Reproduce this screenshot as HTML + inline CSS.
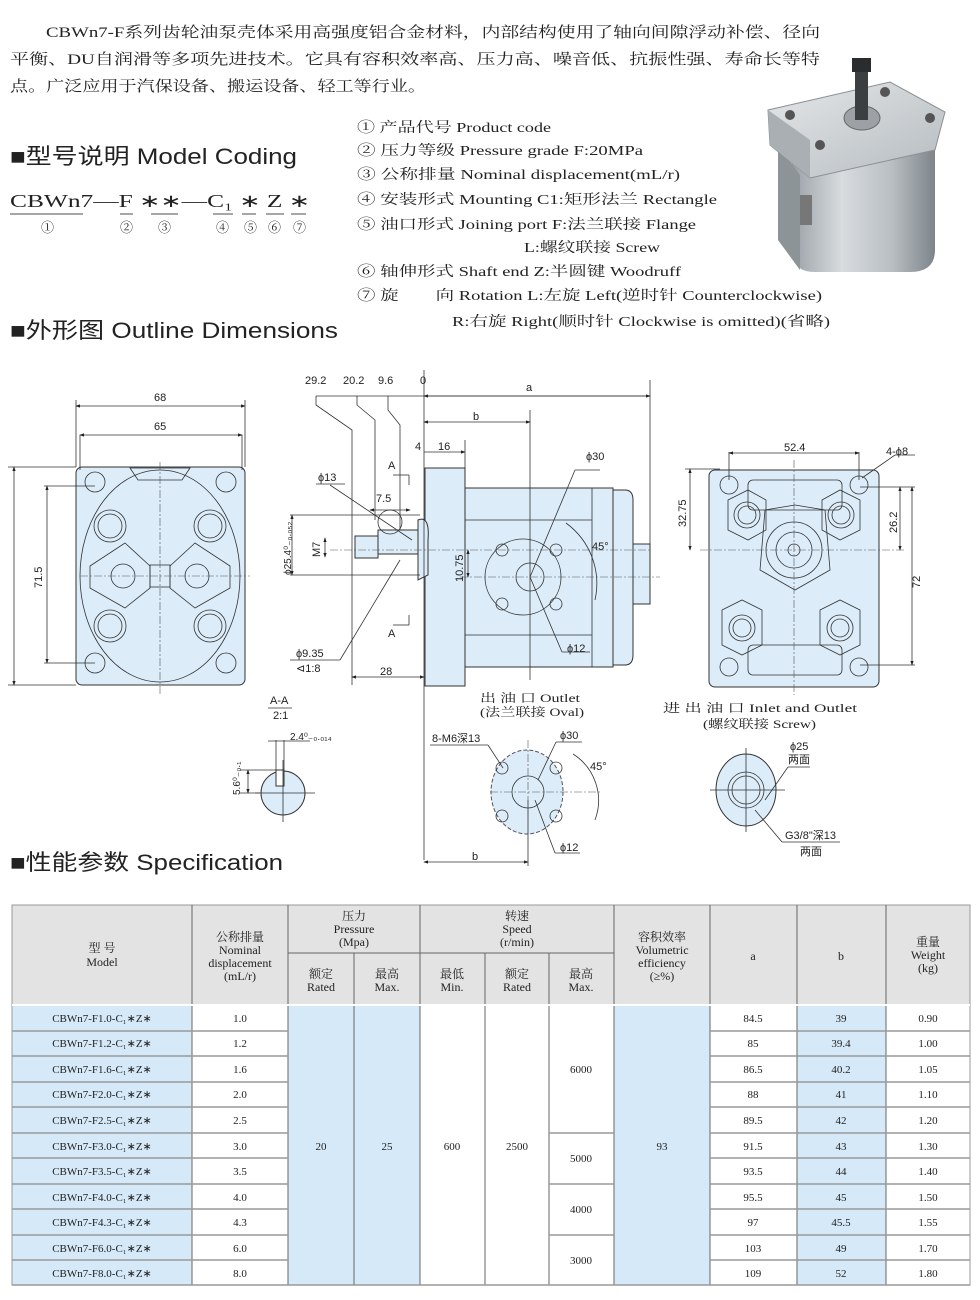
<!DOCTYPE html>
<html><head><meta charset="utf-8"><style>
html,body{margin:0;padding:0;background:#fff}
svg{display:block}
.s{font-family:"Liberation Serif","Noto Serif CJK SC",serif;fill:#222}
.a{font-family:"Liberation Sans","Noto Sans CJK SC",sans-serif;fill:#222}
.l{stroke:#333;stroke-width:0.8;fill:none}
.c{stroke:#555;stroke-width:0.6;fill:none;stroke-dasharray:8 2 2 2}
.b{fill:#dcecf9;stroke:#333;stroke-width:1}
</style></head><body>
<svg width="980" height="1300" viewBox="0 0 980 1300" xmlns="http://www.w3.org/2000/svg">
<defs><marker id="ar" markerWidth="6" markerHeight="6" refX="5" refY="3" orient="auto-start-reverse"><path d="M0,1 L6,3 L0,5z" fill="#222"/></marker>
<linearGradient id="g1" x1="0" x2="1" y1="0" y2="0"><stop offset="0" stop-color="#9aa1a6"/><stop offset="0.35" stop-color="#d8dcdf"/><stop offset="0.7" stop-color="#b8bec2"/><stop offset="1" stop-color="#7e858a"/></linearGradient>
<linearGradient id="g2" x1="0" x2="1" y1="0" y2="1"><stop offset="0" stop-color="#e4e7e9"/><stop offset="1" stop-color="#b5bbbf"/></linearGradient>
</defs>
<g class="s" font-size="15">
<text x="46" y="37" textLength="774" lengthAdjust="spacingAndGlyphs">CBWn7-F系列齿轮油泵壳体采用高强度铝合金材料，内部结构使用了轴向间隙浮动补偿、径向</text>
<text x="10" y="64" textLength="810" lengthAdjust="spacingAndGlyphs">平衡、DU自润滑等多项先进技术。它具有容积效率高、压力高、噪音低、抗振性强、寿命长等特</text>
<text x="10" y="91" textLength="416" lengthAdjust="spacingAndGlyphs">点。广泛应用于汽保设备、搬运设备、轻工等行业。</text>
</g>
<!-- pump photo -->
<g>
<path d="M792,150 H935 V250 Q935,272 910,272 H815 Q792,272 792,250Z" fill="url(#g1)"/>
<polygon points="778,145 800,175 800,270 778,240" fill="#8d9498"/>
<polygon points="768,110 890,82 945,112 935,150 810,178 770,145" fill="url(#g2)" stroke="#8a9094" stroke-width="1"/>
<polygon points="768,110 810,140 810,178 770,145" fill="#a9afb3"/>
<circle cx="790" cy="115" r="5" fill="#555"/><circle cx="885" cy="92" r="5" fill="#555"/><circle cx="930" cy="118" r="5" fill="#555"/><circle cx="820" cy="145" r="5" fill="#555"/>
<ellipse cx="862" cy="118" rx="18" ry="12" fill="#9ba1a5" stroke="#666"/>
<rect x="855" y="62" width="13" height="58" fill="#3c3f42"/>
<rect x="852" y="58" width="19" height="14" fill="#2a2c2e"/>
<rect x="800" y="195" width="12" height="30" fill="#777"/>
</g>
<text class="a" x="10" y="164" font-size="22" textLength="287" lengthAdjust="spacingAndGlyphs">■型号说明 Model Coding</text>
<text class="a" x="10" y="338" font-size="22" textLength="328" lengthAdjust="spacingAndGlyphs">■外形图 Outline Dimensions</text>
<text class="a" x="10" y="870" font-size="22" textLength="273" lengthAdjust="spacingAndGlyphs">■性能参数 Specification</text>
<g class="s" font-size="18">
<text x="10" y="207" textLength="300" lengthAdjust="spacingAndGlyphs">CBWn7—F ∗∗—C₁ ∗ Z ∗</text>
</g>
<g stroke="#888" stroke-width="1.5">
<line x1="10" y1="214" x2="83" y2="214"/><line x1="120" y1="214" x2="133" y2="214"/><line x1="151" y1="214" x2="178" y2="214"/><line x1="213" y1="214" x2="233" y2="214"/><line x1="242" y1="214" x2="256" y2="214"/><line x1="266" y1="214" x2="284" y2="214"/><line x1="291" y1="214" x2="306" y2="214"/>
</g>
<g class="s" font-size="13"><text x="41" y="232">①</text><text x="120" y="232">②</text><text x="158" y="232">③</text><text x="216" y="232">④</text><text x="244" y="232">⑤</text><text x="268" y="232">⑥</text><text x="293" y="232">⑦</text></g>
<g class="s" font-size="14">
<text x="357" y="132" textLength="194" lengthAdjust="spacingAndGlyphs">① 产品代号 Product code</text>
<text x="357" y="155" textLength="286" lengthAdjust="spacingAndGlyphs">② 压力等级 Pressure grade F:20MPa</text>
<text x="357" y="179" textLength="323" lengthAdjust="spacingAndGlyphs">③ 公称排量 Nominal displacement(mL/r)</text>
<text x="357" y="204" textLength="360" lengthAdjust="spacingAndGlyphs">④ 安装形式 Mounting  C1:矩形法兰 Rectangle</text>
<text x="357" y="229" textLength="339" lengthAdjust="spacingAndGlyphs">⑤ 油口形式 Joining port F:法兰联接 Flange</text>
<text x="524" y="252" textLength="136" lengthAdjust="spacingAndGlyphs">L:螺纹联接 Screw</text>
<text x="357" y="276" textLength="324" lengthAdjust="spacingAndGlyphs">⑥ 轴伸形式 Shaft end Z:半圆键 Woodruff</text>
<text x="357" y="300" textLength="465" lengthAdjust="spacingAndGlyphs">⑦ 旋　　向 Rotation L:左旋 Left(逆时针 Counterclockwise)</text>
<text x="452" y="326" textLength="378" lengthAdjust="spacingAndGlyphs">R:右旋 Right(顺时针 Clockwise is omitted)(省略)</text>
</g>

<!-- LEFT VIEW -->
<rect class="b" x="76" y="467" width="169" height="218" rx="6"/>
<ellipse class="l" cx="160" cy="576" rx="80" ry="106"/>
<polygon class="l" points="130,468 190,468 182,480 138,480"/>
<g class="l">
<circle cx="95" cy="482" r="10"/><circle cx="226" cy="482" r="10"/><circle cx="95" cy="663" r="10"/><circle cx="226" cy="663" r="10"/>
<circle cx="110" cy="526" r="16"/><circle cx="110" cy="526" r="12"/><circle cx="210" cy="526" r="16"/><circle cx="210" cy="526" r="12"/>
<circle cx="110" cy="626" r="16"/><circle cx="110" cy="626" r="12"/><circle cx="210" cy="626" r="16"/><circle cx="210" cy="626" r="12"/>
<polygon points="90,566 125,543 150,566 150,588 125,608 90,588"/><polygon points="170,566 195,543 230,566 230,588 195,608 170,588"/>
<circle cx="123" cy="576" r="12"/><circle cx="197" cy="576" r="12"/>
<rect x="150" y="565" width="20" height="22"/>
</g>
<line class="c" x1="160" y1="462" x2="160" y2="695"/><line class="c" x1="80" y1="576" x2="250" y2="576"/>
<g class="l"><line x1="76" y1="400" x2="76" y2="467"/><line x1="245" y1="400" x2="245" y2="467"/><line x1="80" y1="435" x2="80" y2="470"/><line x1="242" y1="435" x2="242" y2="470"/>
<line x1="76" y1="406" x2="245" y2="406" marker-start="url(#ar)" marker-end="url(#ar)"/>
<line x1="80" y1="435" x2="242" y2="435" marker-start="url(#ar)" marker-end="url(#ar)"/>
<line x1="8" y1="467" x2="76" y2="467"/><line x1="8" y1="685" x2="76" y2="685"/><line x1="44" y1="486" x2="95" y2="486"/><line x1="44" y1="663" x2="95" y2="663"/>
<line x1="14" y1="467" x2="14" y2="685" marker-start="url(#ar)" marker-end="url(#ar)"/>
<line x1="47" y1="486" x2="47" y2="663" marker-start="url(#ar)" marker-end="url(#ar)"/></g>
<g class="a" font-size="11"><text x="154" y="401">68</text><text x="154" y="430">65</text><text transform="translate(42,588) rotate(-90)">71.5</text></g>

<!-- SIDE VIEW -->
<rect class="b" x="425" y="468" width="40" height="218"/>
<rect class="b" x="465" y="488" width="148" height="179"/>
<line class="l" x1="465" y1="520" x2="592" y2="520"/><line class="l" x1="465" y1="635" x2="592" y2="635"/><line class="l" x1="592" y1="488" x2="592" y2="667"/>
<path class="b" d="M613,490 H625 Q633,490 633,500 V655 Q633,665 625,665 H613Z"/>
<rect class="b" x="633" y="544" width="17" height="60"/>
<path class="b" d="M418,520 Q430,515 428,540 L428,575 L418,580Z"/>
<rect class="b" x="378" y="530" width="40" height="24"/>
<rect class="b" x="355" y="536" width="23" height="22"/>
<circle class="l" cx="390" cy="522" r="12"/>
<circle class="l" cx="523" cy="577" r="38"/><circle class="l" cx="530" cy="577" r="14"/>
<circle class="l" cx="502" cy="550" r="6"/><circle class="l" cx="556" cy="550" r="6"/><circle class="l" cx="502" cy="604" r="6"/><circle class="l" cx="556" cy="604" r="6"/>
<path class="l" d="M566,523 A75,75 0 0 1 595,600"/>
<line class="c" x1="330" y1="550" x2="650" y2="550"/><line class="c" x1="460" y1="577" x2="660" y2="577"/>
<line class="l" x1="424" y1="370" x2="424" y2="860"/>
<line class="l" x1="530" y1="410" x2="530" y2="680"/>
<g class="l">
<line x1="316" y1="396" x2="650" y2="396"/><line x1="650" y1="380" x2="650" y2="545"/>
<line x1="424" y1="396" x2="650" y2="396" marker-start="url(#ar)" marker-end="url(#ar)"/>
<line x1="424" y1="422" x2="530" y2="422" marker-start="url(#ar)" marker-end="url(#ar)"/>
<line x1="424" y1="452" x2="465" y2="452" marker-end="url(#ar)"/><line x1="465" y1="440" x2="465" y2="468"/>
<polyline points="316,396 316,405 352,430 352,685"/><polyline points="357,396 357,405 375,420 375,520"/><polyline points="388,396 388,410 400,425 400,530"/>
<line x1="352" y1="677" x2="424" y2="677" marker-start="url(#ar)" marker-end="url(#ar)"/>
<line x1="370" y1="510" x2="410" y2="510" marker-start="url(#ar)" marker-end="url(#ar)"/>
<line x1="290" y1="515" x2="420" y2="515"/><line x1="290" y1="575" x2="420" y2="575"/>
<line x1="292" y1="515" x2="292" y2="575" marker-start="url(#ar)" marker-end="url(#ar)"/>
<line x1="325" y1="538" x2="325" y2="557" marker-start="url(#ar)" marker-end="url(#ar)"/>
<line x1="468" y1="550" x2="468" y2="577" marker-start="url(#ar)" marker-end="url(#ar)"/>
<line x1="330" y1="485" x2="412" y2="540"/><line x1="316" y1="484" x2="345" y2="484"/>
<line x1="290" y1="660" x2="340" y2="660"/><line x1="340" y1="660" x2="400" y2="560"/>
<line x1="393" y1="475" x2="409" y2="475"/><line x1="409" y1="475" x2="409" y2="485"/>
<line x1="393" y1="625" x2="409" y2="625"/><line x1="409" y1="615" x2="409" y2="625"/>
<line x1="575" y1="470" x2="530" y2="577"/><line x1="575" y1="470" x2="600" y2="470"/>
<line x1="562" y1="652" x2="530" y2="577"/><line x1="562" y1="652" x2="590" y2="652"/>
</g>
<g class="a" font-size="11">
<text x="305" y="384">29.2</text><text x="343" y="384">20.2</text><text x="378" y="384">9.6</text><text x="420" y="384">0</text><text x="526" y="391">a</text><text x="473" y="420">b</text>
<text x="415" y="450">4</text><text x="438" y="450">16</text><text x="388" y="469">A</text><text x="388" y="637">A</text><text x="318" y="481">ϕ13</text><text x="376" y="502">7.5</text>
<text x="586" y="460">ϕ30</text><text x="567" y="652">ϕ12</text><text x="592" y="550">45°</text>
<text x="296" y="657">ϕ9.35</text><text x="296" y="672">⊲1:8</text><text x="380" y="675">28</text>
<text transform="translate(291,575) rotate(-90)" font-size="10">ϕ25.4⁰₋₀.₀₅₂</text>
<text transform="translate(320,557) rotate(-90)">M7</text>
<text transform="translate(463,582) rotate(-90)">10.75</text>
</g>

<!-- RIGHT VIEW -->
<rect class="b" x="709" y="470" width="170" height="217" rx="6"/>
<g class="l">
<circle cx="729" cy="485" r="9"/><circle cx="859" cy="485" r="9"/><circle cx="729" cy="667" r="9"/><circle cx="859" cy="667" r="9"/>
<rect x="748" y="480" width="94" height="30" rx="5"/><rect x="748" y="645" width="94" height="30" rx="5"/>
<polygon points="765,510 795,505 825,510 830,570 795,590 760,570"/>
<circle cx="794" cy="550" r="28"/><circle cx="794" cy="550" r="18"/><circle cx="794" cy="550" r="6"/>
<polygon points="728,500 748,490 766,500 766,530 748,540 728,530"/><circle cx="747" cy="515" r="13"/><circle cx="747" cy="515" r="9"/>
<polygon points="822,500 840,490 860,500 860,530 840,540 822,530"/><circle cx="841" cy="515" r="13"/><circle cx="841" cy="515" r="9"/>
<polygon points="722,610 742,600 762,610 762,645 742,655 722,645"/><circle cx="742" cy="628" r="13"/><circle cx="742" cy="628" r="9"/>
<polygon points="820,610 840,600 860,610 860,645 840,655 820,645"/><circle cx="840" cy="628" r="13"/><circle cx="840" cy="628" r="9"/>
</g>
<line class="c" x1="794" y1="460" x2="794" y2="695"/><line class="c" x1="700" y1="550" x2="905" y2="550"/>
<g class="l">
<line x1="729" y1="452" x2="729" y2="480"/><line x1="859" y1="452" x2="859" y2="480"/>
<line x1="729" y1="453" x2="859" y2="453" marker-start="url(#ar)" marker-end="url(#ar)"/>
<line x1="862" y1="478" x2="895" y2="455"/><line x1="895" y1="455" x2="915" y2="455"/>
<line x1="685" y1="469" x2="720" y2="469"/><line x1="690" y1="469" x2="690" y2="550" marker-start="url(#ar)" marker-end="url(#ar)"/>
<line x1="860" y1="487" x2="915" y2="487"/><line x1="900" y1="487" x2="900" y2="550" marker-start="url(#ar)" marker-end="url(#ar)"/>
<line x1="860" y1="665" x2="915" y2="665"/><line x1="912" y1="487" x2="912" y2="665" marker-start="url(#ar)" marker-end="url(#ar)"/>
</g>
<g class="a" font-size="11"><text x="784" y="451">52.4</text><text x="886" y="455">4-ϕ8</text>
<text transform="translate(686,527) rotate(-90)">32.75</text><text transform="translate(897,533) rotate(-90)">26.2</text><text transform="translate(920,588) rotate(-90)">72</text></g>

<g class="s" font-size="12">
<text x="480" y="702" textLength="100" lengthAdjust="spacingAndGlyphs">出 油 口 Outlet</text>
<text x="480" y="716" textLength="104" lengthAdjust="spacingAndGlyphs">(法兰联接 Oval)</text>
<text x="663" y="712" textLength="194" lengthAdjust="spacingAndGlyphs">进 出 油 口  Inlet and Outlet</text>
<text x="703" y="728" textLength="113" lengthAdjust="spacingAndGlyphs">(螺纹联接 Screw)</text>
</g>
<g class="a" font-size="11"><text x="270" y="704">A-A</text><text x="273" y="719">2:1</text></g>
<line class="l" x1="268" y1="708" x2="292" y2="708"/>
<circle cx="283" cy="793" r="22" fill="#dcecf9" stroke="#333"/>
<rect x="276" y="770" width="8" height="16" fill="#fff" stroke="#333"/>
<g class="l"><line x1="255" y1="793" x2="315" y2="793"/><line x1="283" y1="760" x2="283" y2="822"/>
<line x1="240" y1="770" x2="276" y2="770"/><line x1="240" y1="793" x2="260" y2="793"/><line x1="248" y1="770" x2="248" y2="793" marker-start="url(#ar)" marker-end="url(#ar)"/>
<line x1="276" y1="740" x2="276" y2="770"/><line x1="284" y1="740" x2="284" y2="770"/><line x1="268" y1="741" x2="310" y2="741"/></g>
<g class="a" font-size="10"><text x="290" y="740">2.4⁰₋₀.₀₁₄</text><text transform="translate(240,795) rotate(-90)">5.6⁰₋₀.₁</text></g>

<ellipse cx="527" cy="792" rx="36" ry="42" fill="#dcecf9" stroke="#555" stroke-dasharray="4 2"/>
<circle class="l" cx="528" cy="792" r="16"/>
<g class="l"><circle cx="502" cy="768" r="6"/><circle cx="556" cy="768" r="6"/><circle cx="502" cy="816" r="6"/><circle cx="556" cy="816" r="6"/>
<line x1="430" y1="745" x2="488" y2="745"/><line x1="488" y1="745" x2="503" y2="768"/>
<line x1="556" y1="742" x2="582" y2="742"/><line x1="556" y1="742" x2="538" y2="780"/>
<line x1="555" y1="853" x2="580" y2="853"/><line x1="555" y1="853" x2="535" y2="800"/>
<path d="M573,754 A55,55 0 0 1 595,820"/>
<line x1="424" y1="862" x2="528" y2="862" marker-start="url(#ar)" marker-end="url(#ar)"/>
<line x1="528" y1="800" x2="528" y2="866"/></g>
<line class="c" x1="490" y1="792" x2="600" y2="792"/><line class="c" x1="528" y1="740" x2="528" y2="845"/>
<g class="a" font-size="11"><text x="432" y="742">8-M6深13</text><text x="560" y="739">ϕ30</text><text x="590" y="770">45°</text><text x="560" y="851">ϕ12</text><text x="472" y="860">b</text></g>

<ellipse cx="746" cy="790" rx="30" ry="36" fill="#dcecf9" stroke="#333"/>
<circle class="l" cx="746" cy="790" r="18"/><circle class="l" cx="746" cy="790" r="14"/>
<g class="l"><line x1="710" y1="790" x2="785" y2="790"/><line x1="746" y1="748" x2="746" y2="832"/>
<line x1="788" y1="767" x2="810" y2="767"/><line x1="788" y1="767" x2="765" y2="800"/>
<line x1="782" y1="842" x2="840" y2="842"/><line x1="782" y1="842" x2="755" y2="810"/></g>
<g class="a" font-size="11"><text x="790" y="750">ϕ25</text><text x="788" y="763">两面</text><text x="785" y="839">G3/8"深13</text><text x="800" y="855">两面</text></g>

<!-- TABLE -->
<g stroke="#9a9a9a" stroke-width="1">
<rect x="12" y="905" width="958" height="100" fill="#e3e3e3"/>
<rect x="12" y="1005" width="180" height="280" fill="#d5e9f8"/>
<rect x="192" y="1005" width="96" height="280" fill="#fff"/>
<rect x="288" y="1005" width="132" height="280" fill="#d5e9f8"/>
<rect x="420" y="1005" width="194" height="280" fill="#fff"/>
<rect x="614" y="1005" width="96" height="280" fill="#d5e9f8"/>
<rect x="710" y="1005" width="87" height="280" fill="#fff"/>
<rect x="797" y="1005" width="89" height="280" fill="#d5e9f8"/>
<rect x="886" y="1005" width="84" height="280" fill="#fff"/>
</g>
<g stroke="#666" stroke-width="1">
<line x1="192" y1="905" x2="192" y2="1285"/><line x1="288" y1="905" x2="288" y2="1285"/><line x1="354" y1="953" x2="354" y2="1285"/><line x1="420" y1="905" x2="420" y2="1285"/><line x1="485" y1="953" x2="485" y2="1285"/><line x1="549" y1="953" x2="549" y2="1285"/><line x1="614" y1="905" x2="614" y2="1285"/><line x1="710" y1="905" x2="710" y2="1285"/><line x1="797" y1="905" x2="797" y2="1285"/><line x1="886" y1="905" x2="886" y2="1285"/>
<line x1="288" y1="953" x2="614" y2="953"/>
<line x1="12" y1="1005" x2="970" y2="1005" stroke-width="2" stroke="#fff"/>
</g>
<g stroke="#999" stroke-width="1.5">
<path d="M12,1031H288 M12,1056H288 M12,1082H288 M12,1107H288 M12,1133H288 M12,1158H288 M12,1184H288 M12,1209H288 M12,1235H288 M12,1260H288"/>
<path d="M710,1031H970 M710,1056H970 M710,1082H970 M710,1107H970 M710,1133H970 M710,1158H970 M710,1184H970 M710,1209H970 M710,1235H970 M710,1260H970"/>
<path d="M549,1133H614 M549,1184H614 M549,1235H614"/>
<line x1="12" y1="1285" x2="970" y2="1285"/>
</g>
<g class="s" font-size="12" text-anchor="middle">
<text x="102" y="952">型 号</text><text x="102" y="966">Model</text>
<text x="240" y="941">公称排量</text><text x="240" y="954">Nominal</text><text x="240" y="967">displacement</text><text x="240" y="980">(mL/r)</text>
<text x="354" y="920">压力</text><text x="354" y="933">Pressure</text><text x="354" y="946">(Mpa)</text>
<text x="517" y="920">转速</text><text x="517" y="933">Speed</text><text x="517" y="946">(r/min)</text>
<text x="321" y="978">额定</text><text x="321" y="991">Rated</text><text x="387" y="978">最高</text><text x="387" y="991">Max.</text>
<text x="452" y="978">最低</text><text x="452" y="991">Min.</text><text x="517" y="978">额定</text><text x="517" y="991">Rated</text><text x="581" y="978">最高</text><text x="581" y="991">Max.</text>
<text x="662" y="941">容积效率</text><text x="662" y="954">Volumetric</text><text x="662" y="967">efficiency</text><text x="662" y="980">(≥%)</text>
<text x="753" y="960">a</text><text x="841" y="960">b</text>
<text x="928" y="946">重量</text><text x="928" y="959">Weight</text><text x="928" y="972">(kg)</text>
</g>
<g class="s" font-size="11" text-anchor="middle">
<text x="102" y="1022">CBWn7-F1.0-C₁∗Z∗</text><text x="102" y="1047">CBWn7-F1.2-C₁∗Z∗</text><text x="102" y="1073">CBWn7-F1.6-C₁∗Z∗</text><text x="102" y="1098">CBWn7-F2.0-C₁∗Z∗</text><text x="102" y="1124">CBWn7-F2.5-C₁∗Z∗</text><text x="102" y="1150">CBWn7-F3.0-C₁∗Z∗</text><text x="102" y="1175">CBWn7-F3.5-C₁∗Z∗</text><text x="102" y="1201">CBWn7-F4.0-C₁∗Z∗</text><text x="102" y="1226">CBWn7-F4.3-C₁∗Z∗</text><text x="102" y="1252">CBWn7-F6.0-C₁∗Z∗</text><text x="102" y="1277">CBWn7-F8.0-C₁∗Z∗</text>
<text x="240" y="1022">1.0</text><text x="240" y="1047">1.2</text><text x="240" y="1073">1.6</text><text x="240" y="1098">2.0</text><text x="240" y="1124">2.5</text><text x="240" y="1150">3.0</text><text x="240" y="1175">3.5</text><text x="240" y="1201">4.0</text><text x="240" y="1226">4.3</text><text x="240" y="1252">6.0</text><text x="240" y="1277">8.0</text>
<text x="321" y="1150">20</text><text x="387" y="1150">25</text><text x="452" y="1150">600</text><text x="517" y="1150">2500</text><text x="662" y="1150">93</text>
<text x="581" y="1073">6000</text><text x="581" y="1162">5000</text><text x="581" y="1213">4000</text><text x="581" y="1264">3000</text>
<text x="753" y="1022">84.5</text><text x="753" y="1047">85</text><text x="753" y="1073">86.5</text><text x="753" y="1098">88</text><text x="753" y="1124">89.5</text><text x="753" y="1150">91.5</text><text x="753" y="1175">93.5</text><text x="753" y="1201">95.5</text><text x="753" y="1226">97</text><text x="753" y="1252">103</text><text x="753" y="1277">109</text>
<text x="841" y="1022">39</text><text x="841" y="1047">39.4</text><text x="841" y="1073">40.2</text><text x="841" y="1098">41</text><text x="841" y="1124">42</text><text x="841" y="1150">43</text><text x="841" y="1175">44</text><text x="841" y="1201">45</text><text x="841" y="1226">45.5</text><text x="841" y="1252">49</text><text x="841" y="1277">52</text>
<text x="928" y="1022">0.90</text><text x="928" y="1047">1.00</text><text x="928" y="1073">1.05</text><text x="928" y="1098">1.10</text><text x="928" y="1124">1.20</text><text x="928" y="1150">1.30</text><text x="928" y="1175">1.40</text><text x="928" y="1201">1.50</text><text x="928" y="1226">1.55</text><text x="928" y="1252">1.70</text><text x="928" y="1277">1.80</text>
</g>
</svg>
</body></html>
